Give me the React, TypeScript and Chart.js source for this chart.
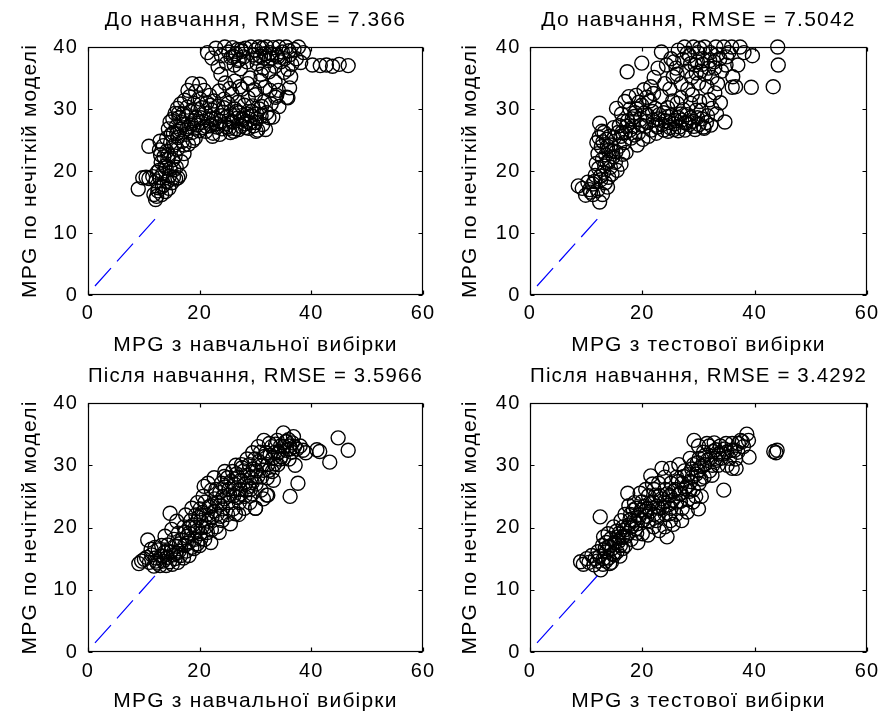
import React, { useEffect, useRef } from "react";
import { Chart, registerables } from "chart.js";

Chart.register(...registerables);

// ---------- data ----------
const trainBefore: [number, number][] = [
  [9.0, 17.1], [9.8, 18.9], [10.4, 19.0], [10.9, 18.8], [11.6, 19.1], [10.9, 24.0], [11.8, 16.2], [12.1, 15.4], [12.3, 15.9], [12.6, 17.3],
  [12.2, 18.4], [12.9, 18.9], [12.7, 20.1], [13.1, 21.4], [13.0, 22.6], [12.8, 23.4], [13.4, 19.6], [13.6, 17.8], [13.9, 16.7], [14.2, 18.3],
  [14.0, 20.5], [14.3, 21.9], [14.1, 23.2], [14.6, 19.2], [15.0, 18.1], [15.3, 19.0], [15.7, 18.7], [16.1, 18.9], [16.4, 19.3], [15.8, 20.6],
  [15.2, 21.8], [16.0, 23.5], [14.8, 24.6], [13.5, 24.1], [13.2, 16.2], [12.4, 19.8], [14.5, 17.2], [15.6, 22.4], [16.7, 21.5], [17.2, 22.8],
  [12.5, 16.8], [13.3, 17.5], [13.8, 20.8], [14.7, 20.3], [15.4, 20.2], [12.9, 24.8], [13.6, 22.3], [14.4, 22.7],
  [14.1, 25.3], [14.4, 26.8], [14.7, 27.9], [14.9, 25.9], [15.2, 28.4], [15.3, 26.1], [15.5, 24.2], [15.6, 29.3], [15.8, 27.2], [16.0, 30.1],
  [16.1, 25.4], [16.3, 28.6], [16.5, 26.7], [16.6, 30.8], [16.9, 24.8], [17.0, 29.2], [17.1, 27.5], [17.3, 31.4], [17.5, 25.9], [17.6, 28.8],
  [17.8, 30.3], [18.0, 24.3], [18.1, 27.1], [18.2, 32.0], [18.4, 29.6], [18.6, 26.2], [18.7, 34.1], [18.9, 28.1], [19.0, 30.9], [19.2, 25.3],
  [19.3, 32.8], [19.5, 27.4], [19.7, 29.9], [19.9, 26.5], [20.1, 31.6], [20.2, 28.6], [20.4, 30.2], [20.6, 27.0], [20.8, 33.0], [21.0, 29.3],
  [21.1, 26.4], [21.3, 31.0], [21.6, 28.2], [21.8, 32.2], [22.0, 27.3], [22.2, 29.8], [22.4, 26.1], [22.6, 31.3], [22.9, 28.5], [23.1, 27.1],
  [23.3, 30.4], [23.5, 32.9], [23.7, 28.0], [24.0, 26.8], [24.2, 29.5], [24.4, 31.6], [24.6, 27.6], [24.9, 28.8], [25.1, 30.9], [25.3, 26.9],
  [25.6, 29.1], [25.8, 32.4], [26.0, 27.9], [26.3, 30.0], [26.5, 26.8], [26.7, 28.5], [26.9, 31.1], [27.1, 29.4], [27.4, 27.2], [27.6, 33.2],
  [27.8, 28.3], [28.0, 30.6], [28.2, 27.0], [28.5, 29.2], [28.7, 31.8], [29.0, 27.8], [29.2, 28.9], [29.5, 30.5], [29.7, 27.3], [30.0, 32.3],
  [30.2, 28.4], [30.4, 26.6], [30.7, 30.0], [31.0, 28.9], [31.3, 27.5], [31.6, 31.2], [32.0, 29.4], [32.4, 28.6], [32.8, 30.8], [33.1, 28.7],
  [33.6, 31.9], [34.2, 30.4], [30.1, 26.4], [31.8, 26.7], [35.8, 31.8], [28.8, 26.9], [27.0, 26.7], [25.5, 26.2], [23.6, 25.9], [22.3, 25.6],
  [15.9, 26.0], [16.8, 27.8], [17.7, 26.8], [18.5, 27.6], [19.4, 28.6], [20.3, 27.8], [21.2, 27.2], [22.1, 28.4], [23.0, 27.6], [23.9, 28.9],
  [24.8, 27.1], [25.7, 28.0], [26.6, 29.6], [27.5, 28.4], [28.4, 28.0], [29.3, 29.6], [30.2, 29.2], [31.1, 30.4], [19.0, 26.9], [21.9, 30.6],
  [24.3, 30.2], [26.1, 26.4], [28.1, 27.6], [29.9, 27.8], [17.2, 24.2], [18.8, 24.9], [16.2, 29.3], [17.9, 33.0], [20.0, 34.0],
  [23.8, 35.6], [24.6, 34.2], [25.4, 33.3], [26.3, 34.5], [27.2, 33.6], [28.6, 34.1], [29.8, 33.1], [30.9, 34.6], [31.7, 33.5], [32.6, 33.0],
  [33.5, 34.4], [34.1, 33.0], [35.1, 35.9], [36.1, 33.4], [36.3, 35.2], [35.6, 31.9], [33.8, 32.2],
  [21.4, 39.1], [22.2, 38.2], [22.9, 39.8], [23.3, 36.8], [23.9, 38.6], [24.5, 40.0], [24.8, 37.4], [25.2, 39.2], [25.6, 38.3], [25.9, 39.9],
  [26.2, 37.1], [26.5, 38.9], [26.8, 39.6], [27.1, 38.0], [27.3, 36.5], [27.6, 39.3], [27.9, 38.4], [28.2, 39.8], [28.5, 37.6], [29.2, 40.0],
  [29.6, 38.7], [30.0, 39.5], [30.3, 37.3], [30.6, 40.0], [30.9, 38.5], [31.2, 39.8], [31.4, 36.6], [31.7, 38.9], [32.0, 40.0], [32.3, 37.8],
  [32.6, 39.1], [32.9, 38.2], [33.2, 39.9], [33.5, 36.9], [33.8, 38.7], [34.2, 40.0], [34.5, 37.6], [34.8, 39.2], [35.2, 38.1], [35.5, 40.0],
  [35.8, 36.4], [36.2, 38.8], [36.5, 37.2], [36.9, 39.6], [37.3, 38.1], [37.7, 40.0], [38.1, 37.5], [38.6, 39.1], [31.0, 35.6], [29.0, 35.0],
  [32.4, 36.0], [26.0, 38.5], [26.9, 37.8], [27.4, 39.6], [31.5, 38.2], [33.0, 38.8], [34.0, 38.4], [36.0, 39.4], [30.1, 38.2],
  [40.2, 37.1], [41.6, 37.0], [42.7, 37.1], [43.8, 36.9], [45.0, 37.2], [46.6, 37.0],
];

const testBefore: [number, number][] = [
  [8.6, 17.6], [9.3, 17.2], [9.9, 16.1], [10.3, 18.2], [10.8, 16.6], [11.2, 17.9], [11.6, 19.3], [12.0, 16.9], [12.4, 15.0], [12.6, 18.6],
  [12.9, 16.2], [13.1, 19.8], [13.4, 18.1], [13.8, 17.4], [14.0, 19.0], [14.3, 20.6], [12.2, 20.4], [11.8, 21.2], [12.9, 21.9], [12.1, 22.8],
  [11.9, 24.6], [12.4, 27.7], [12.3, 25.4], [12.7, 23.9], [13.0, 24.7], [13.2, 26.2], [13.5, 22.6], [13.6, 25.1], [13.9, 23.3], [14.1, 21.7],
  [14.4, 24.2], [14.8, 22.3], [15.0, 25.4], [15.3, 23.1], [15.5, 20.1], [15.9, 24.0], [16.2, 21.1], [16.5, 22.7], [14.6, 19.5], [15.7, 26.2],
  [16.8, 24.6], [17.1, 23.0], [13.3, 20.8], [14.9, 27.0], [11.5, 18.3],
  [12.6, 19.2], [13.7, 21.4], [14.2, 25.6], [12.8, 26.4], [13.8, 24.0], [11.2, 16.2], [10.6, 17.0], [15.2, 21.4], [14.6, 23.2], [16.2, 25.6],
  [15.4, 30.1], [15.9, 27.3], [16.3, 29.2], [16.9, 31.2], [17.0, 26.2], [17.4, 28.1], [17.8, 30.0], [18.0, 25.3], [18.4, 27.2], [18.7, 29.4],
  [18.9, 32.2], [19.3, 26.1], [19.6, 28.3], [19.9, 30.6], [20.3, 33.1], [20.6, 27.2], [20.9, 29.0], [21.3, 31.3], [21.6, 26.6], [21.9, 28.2],
  [22.3, 30.1], [22.7, 27.1], [23.0, 29.1], [23.4, 32.0], [23.8, 26.6], [24.1, 28.1], [24.5, 30.2], [24.9, 27.0], [25.2, 28.9], [25.6, 26.7],
  [25.9, 28.1], [26.2, 30.9], [26.6, 27.1], [27.0, 28.2], [27.3, 29.9], [27.6, 26.6], [28.0, 29.1], [28.3, 27.5], [28.6, 30.9], [29.0, 28.0],
  [29.4, 26.7], [29.8, 28.6], [30.1, 27.5], [30.5, 29.8], [30.9, 27.1], [31.6, 28.9], [32.4, 30.1], [33.2, 29.2], [34.7, 27.9], [21.1, 25.6],
  [20.1, 25.1], [19.1, 24.2], [22.5, 26.1], [23.5, 27.5], [24.6, 26.4], [26.4, 26.5], [27.8, 27.7], [29.2, 27.2], [31.0, 26.9], [18.2, 28.4],
  [19.4, 31.1], [20.8, 31.9], [22.0, 32.5], [17.6, 32.0], [16.6, 28.0], [25.4, 31.3], [26.9, 31.8], [28.9, 32.3], [30.2, 31.2], [31.9, 31.5],
  [32.9, 32.6], [33.9, 31.0],
  [17.2, 27.2], [18.6, 28.8], [19.8, 27.4], [20.8, 28.0], [21.8, 29.6], [22.8, 28.4], [23.8, 29.4], [24.6, 28.8], [25.8, 27.6], [26.8, 29.2],
  [27.6, 27.8], [28.6, 28.6], [29.6, 29.8], [30.6, 28.4], [31.4, 27.8], [32.2, 27.4], [19.0, 30.0], [20.4, 29.4], [17.8, 26.6], [16.4, 26.2],
  [18.6, 25.8], [22.4, 27.4], [24.8, 27.8], [26.4, 28.6],
  [17.3, 36.0], [19.9, 37.4], [21.5, 33.6], [22.1, 35.1], [22.8, 36.6], [23.4, 39.2], [24.0, 34.1], [24.3, 37.1], [24.9, 33.2], [25.1, 38.1],
  [25.5, 35.2], [26.0, 36.6], [26.4, 39.5], [26.9, 34.1], [27.2, 38.0], [27.5, 40.0], [27.9, 36.1], [28.1, 33.2], [28.4, 38.6], [28.8, 35.1],
  [29.1, 40.0], [29.4, 37.1], [29.9, 39.1], [30.0, 34.2], [30.4, 36.1], [30.8, 38.1], [31.1, 40.0], [31.5, 33.6], [31.8, 36.6], [32.1, 39.1],
  [32.4, 35.1], [32.8, 37.6], [33.1, 40.0], [33.4, 34.1], [33.8, 38.1], [34.1, 36.1], [34.5, 40.0], [34.9, 37.1], [35.4, 39.1], [35.9, 40.0],
  [36.1, 35.2], [36.6, 33.6], [37.0, 37.1], [37.4, 40.0], [38.1, 39.1], [39.6, 38.6], [44.1, 40.0], [44.2, 37.1], [43.3, 33.6], [39.4, 33.5],
  [36.0, 33.5], [28.6, 37.3], [30.7, 37.2], [32.9, 36.6], [26.2, 35.6], [29.6, 35.8],
  [29.8, 37.6], [31.2, 35.6], [30.2, 39.8], [33.4, 38.8], [35.0, 38.4], [28.0, 39.0], [25.6, 37.6], [32.0, 37.8],
];

const trainAfter: [number, number][] = [
  [9.1, 14.2], [9.6, 14.6], [10.1, 14.9], [10.5, 15.2], [10.7, 18.0], [11.0, 14.4], [11.4, 15.6], [11.8, 13.8], [12.1, 15.1], [12.4, 14.3],
  [12.6, 16.4], [12.9, 13.9], [13.1, 15.4], [13.2, 17.1], [13.5, 14.6], [13.7, 16.0], [14.0, 13.9], [14.2, 15.2], [14.3, 17.2], [14.6, 14.5],
  [14.8, 16.1], [15.1, 14.1], [15.3, 15.6], [15.4, 18.1], [14.7, 22.3], [15.6, 15.0], [15.8, 17.0], [16.1, 14.4], [16.3, 16.2], [16.2, 19.1],
  [16.6, 15.5], [16.8, 18.0], [17.1, 15.1], [17.3, 17.1], [17.2, 20.1], [12.0, 16.8], [13.8, 18.6], [15.0, 19.7], [15.9, 21.0], [11.3, 16.5],
  [17.6, 16.2], [18.1, 15.5],
  [17.5, 22.0], [18.0, 17.5], [18.1, 19.1], [18.4, 21.1], [18.6, 23.1], [19.0, 16.6], [19.1, 18.1], [19.2, 20.0], [19.3, 22.0], [19.6, 24.0],
  [20.0, 17.1], [20.1, 19.0], [20.2, 21.1], [20.1, 23.0], [20.6, 25.0], [20.9, 18.1], [21.1, 20.1], [21.2, 22.0], [21.0, 24.1], [21.5, 27.1],
  [22.0, 17.6], [22.1, 19.6], [22.2, 21.6], [22.0, 23.5], [22.1, 26.0], [22.6, 28.0], [23.0, 20.1], [23.1, 22.1], [23.2, 24.0], [22.9, 26.1],
  [23.5, 19.2], [24.0, 21.1], [24.1, 23.0], [24.2, 25.0], [23.9, 27.1], [24.5, 29.0], [25.0, 22.1], [25.1, 24.0], [25.2, 26.1], [25.0, 28.0],
  [25.5, 20.6], [26.0, 23.0], [26.1, 25.1], [26.2, 27.0], [25.9, 29.0], [26.5, 30.0], [27.0, 22.1], [27.1, 24.0], [27.2, 26.1], [26.9, 28.1],
  [27.5, 30.1], [28.0, 23.1], [28.1, 25.0], [28.2, 27.0], [27.9, 29.1], [28.5, 31.0], [29.0, 24.0], [29.1, 26.1], [29.2, 28.0], [28.9, 30.1],
  [29.5, 32.0], [30.0, 23.1], [30.1, 27.0], [30.2, 29.1], [29.9, 31.0], [30.5, 33.0], [31.0, 26.0], [31.1, 28.1], [31.2, 30.0], [30.9, 32.1],
  [31.5, 34.0], [32.0, 25.2], [32.1, 28.0], [32.2, 30.1], [31.9, 32.0], [32.5, 33.5], [33.0, 29.0], [33.1, 31.1], [32.9, 33.0], [33.5, 32.1],
  [34.0, 30.1], [34.1, 32.0], [33.9, 34.0], [34.5, 33.1], [35.0, 31.1], [35.1, 33.0], [35.0, 35.2], [35.5, 32.4], [36.0, 31.0], [36.1, 33.1],
  [35.9, 34.1], [36.2, 25.0], [36.5, 32.1], [37.0, 33.0], [37.1, 30.0], [37.6, 27.1], [38.0, 33.1], [38.5, 32.4], [39.0, 32.0], [41.0, 32.5],
  [41.5, 32.2], [43.3, 30.5], [44.8, 34.4], [46.6, 32.4], [32.2, 25.2], [30.0, 23.1],
  [18.8, 20.4], [19.8, 21.6], [20.5, 22.4], [21.7, 23.3], [22.7, 24.6], [23.6, 25.6], [24.6, 26.5], [25.6, 27.4], [26.6, 28.6], [27.6, 29.6],
  [28.6, 28.4], [29.6, 29.4], [30.6, 30.6], [31.6, 31.4], [32.6, 31.6], [33.6, 33.4], [34.6, 31.4], [36.6, 33.6], [23.8, 21.8], [26.8, 24.8],
  [28.8, 26.6], [21.4, 19.2], [19.6, 17.4], [17.8, 18.6], [20.8, 26.6], [24.4, 28.2], [27.4, 27.6], [29.4, 25.4], [26.4, 22.2], [36.8, 34.6],
  [35.6, 33.8], [33.2, 27.6], [31.4, 24.6],
  [17.4, 19.2], [18.2, 20.0], [19.4, 19.4], [20.4, 20.0], [21.6, 21.0], [22.6, 22.6], [23.6, 23.6], [24.4, 24.6], [25.4, 25.2], [26.4, 26.2],
  [27.4, 25.4], [28.4, 26.0], [29.4, 27.2], [30.4, 28.2], [31.4, 29.2], [32.4, 29.2], [33.4, 30.2], [34.4, 31.0], [35.4, 33.8], [36.2, 32.6],
  [37.4, 32.6], [20.2, 18.2], [16.4, 17.4], [14.2, 16.2], [13.4, 15.4], [12.2, 14.6], [15.8, 15.8], [18.6, 16.8],
];

const testAfter: [number, number][] = [
  [9.0, 14.5], [9.5, 14.1], [10.1, 15.0], [10.5, 14.4], [11.0, 15.5], [11.4, 14.0], [12.0, 14.6], [12.1, 16.1], [12.6, 13.2], [12.5, 21.7],
  [13.0, 14.1], [13.1, 15.0], [12.9, 17.1], [13.1, 18.5], [13.5, 14.6], [13.6, 16.1], [14.0, 15.1], [14.1, 17.0], [13.9, 19.0], [14.5, 14.4],
  [14.6, 16.6], [15.0, 15.6], [15.1, 17.6], [14.9, 20.1], [15.5, 16.1], [15.6, 18.5], [16.0, 15.4], [16.1, 17.1], [15.9, 19.1], [16.2, 21.1],
  [16.5, 16.6], [16.6, 20.1], [17.0, 17.1], [17.1, 18.6], [16.9, 22.1], [17.5, 19.1], [17.6, 23.5], [17.4, 25.5], [18.0, 18.1], [18.1, 20.1],
  [17.9, 22.1], [18.5, 21.1], [18.6, 24.0], [19.0, 19.1], [19.1, 20.6], [18.9, 23.1], [19.5, 22.1], [19.6, 25.5], [20.0, 19.0], [20.1, 21.1],
  [19.9, 24.1], [20.5, 22.6], [20.6, 26.1], [21.0, 18.8], [21.1, 21.1], [20.9, 23.1], [21.1, 25.1], [21.5, 28.3], [22.0, 20.1], [22.1, 22.1],
  [21.9, 24.1], [22.1, 26.1], [22.5, 21.1], [23.0, 23.1], [23.1, 25.1], [22.9, 27.1], [23.0, 19.5], [23.5, 29.5], [24.0, 20.1], [24.1, 22.1],
  [23.9, 24.1], [24.1, 26.1], [24.0, 28.1], [24.4, 18.5], [25.0, 21.1], [25.1, 23.1], [24.9, 25.1], [25.1, 27.1], [25.0, 29.5], [25.5, 20.5],
  [26.0, 22.1], [26.1, 24.1], [25.9, 26.1], [26.1, 28.1], [26.5, 30.1], [27.0, 21.1], [27.1, 23.1], [26.9, 25.5], [27.1, 27.1], [27.5, 29.1],
  [28.0, 22.5], [28.1, 24.5], [27.9, 26.5], [28.1, 28.5], [28.5, 31.1], [29.0, 24.1], [29.1, 26.1], [28.9, 28.1], [29.1, 30.1], [29.2, 34.0],
  [29.5, 25.0], [30.0, 23.0], [30.1, 27.1], [29.9, 29.1], [30.1, 31.1], [30.0, 33.1], [30.5, 25.0], [31.0, 28.1], [31.1, 30.1], [30.9, 32.1],
  [31.5, 33.5], [32.0, 29.1], [32.1, 31.1], [31.9, 33.1], [32.5, 30.0], [33.0, 31.1], [33.1, 32.5], [33.5, 30.0], [34.0, 31.1], [33.9, 33.1],
  [34.5, 26.0], [35.0, 32.1], [35.1, 30.0], [34.9, 33.5], [35.5, 31.1], [36.0, 33.5], [36.7, 29.5], [37.0, 32.1], [37.1, 33.5], [37.5, 34.0],
  [38.0, 33.0], [38.6, 35.0], [38.9, 34.0], [39.0, 31.3], [43.4, 32.2], [44.0, 32.4], [43.8, 32.0],
  [13.6, 17.6], [14.4, 18.2], [15.4, 19.4], [16.4, 18.4], [17.8, 21.2], [18.4, 22.8], [19.4, 21.6], [20.4, 23.4], [21.4, 22.6], [22.6, 23.4],
  [23.4, 24.6], [24.6, 23.6], [25.6, 25.8], [26.4, 27.4], [27.6, 26.2], [28.6, 27.4], [29.6, 28.6], [30.6, 29.8], [31.6, 30.8], [32.6, 32.2],
  [33.6, 31.8], [34.6, 32.6], [36.4, 32.4], [22.8, 21.8], [24.8, 22.2], [26.8, 24.2], [28.4, 25.8], [30.4, 27.8], [32.4, 28.4], [21.8, 27.0],
  [19.2, 17.6], [36.0, 29.5],
  [13.4, 16.6], [14.8, 15.8], [15.8, 17.8], [16.8, 19.6], [17.6, 20.4], [18.8, 19.8], [19.8, 22.8], [20.8, 21.8], [21.6, 23.8], [22.4, 25.2],
  [23.6, 23.2], [24.4, 25.4], [25.4, 24.4], [26.6, 25.4], [27.4, 28.2], [28.8, 29.4], [29.8, 30.4], [31.2, 31.6], [32.8, 33.6], [33.2, 30.8],
  [34.4, 31.8], [35.8, 32.4], [36.6, 31.0], [37.8, 33.8], [12.4, 15.4], [11.6, 15.0], [14.2, 14.2], [16.6, 18.6],
];

const identityLine: [number, number][] = [
  [1.25, 1.45],
  [12, 12.25],
];

const titles = [
  "До навчання, RMSE = 7.366",
  "До навчання, RMSE = 7.5042",
  "Після навчання, RMSE = 3.5966",
  "Після навчання, RMSE = 3.4292",
];
const xLabels = [
  "MPG з навчальної вибірки",
  "MPG з тестової вибірки",
  "MPG з навчальної вибірки",
  "MPG з тестової вибірки",
];
const yLabel = "MPG по нечіткій моделі";
const xTicks = [0, 20, 40, 60];
const yTicks = [0, 10, 20, 30, 40];

// ---------- layout of the four panels ----------
type Panel = {
  data: [number, number][];
  title: string;
  xLabel: string;
  left: number; top: number; w: number; h: number;
  plotLeft: number; plotRight: number; plotTop: number; plotBottom: number;
  titleCenter: number; yTitleCenter: number; xTitleCenter: number;
  xTickPad: number; yTickPad: number;
};

const panels: Panel[] = [
  { data: trainBefore, title: titles[0], xLabel: xLabels[0], left: 0, top: 0, w: 444, h: 360,
    plotLeft: 88, plotRight: 423, plotTop: 47, plotBottom: 295, titleCenter: 20.5, yTitleCenter: 30, xTitleCenter: 345,
    xTickPad: 6, yTickPad: 10 },
  { data: testBefore, title: titles[1], xLabel: xLabels[1], left: 444, top: 0, w: 445, h: 360,
    plotLeft: 86, plotRight: 423, plotTop: 47, plotBottom: 295, titleCenter: 20.5, yTitleCenter: 26.7, xTitleCenter: 345,
    xTickPad: 6, yTickPad: 9.5 },
  { data: trainAfter, title: titles[2], xLabel: xLabels[2], left: 0, top: 360, w: 444, h: 355,
    plotLeft: 88, plotRight: 423, plotTop: 43, plotBottom: 292, titleCenter: 16.5, yTitleCenter: 30, xTitleCenter: 341.5,
    xTickPad: 7, yTickPad: 10 },
  { data: testAfter, title: titles[3], xLabel: xLabels[3], left: 444, top: 360, w: 445, h: 355,
    plotLeft: 86, plotRight: 423, plotTop: 43, plotBottom: 292, titleCenter: 16.5, yTitleCenter: 26.7, xTitleCenter: 341.5,
    xTickPad: 7, yTickPad: 9.5 },
];

const FONT = "'Liberation Sans', Arial, sans-serif";
const FS = 21;
const TICK_FS = 20;
const LH = FS * 1.2;
const SPACING = "1.2px";

const spacingPlugin = {
  id: "letterSpacing",
  beforeLayout(chart: any) { (chart.ctx as any).letterSpacing = SPACING; },
  beforeDraw(chart: any) { (chart.ctx as any).letterSpacing = SPACING; },
};

const framePlugin = {
  id: "matlabFrame",
  afterDraw(chart: any) {
    const { ctx, chartArea, scales } = chart;
    const L = Math.round(chartArea.left) + 0.5;
    const R = Math.round(chartArea.right) - 0.5;
    const T = Math.round(chartArea.top) + 0.5;
    const B = Math.round(chartArea.bottom) - 0.5;
    ctx.save();
    ctx.strokeStyle = "#000";
    ctx.lineWidth = 1.2;
    ctx.strokeRect(L, T, R - L, B - T);
    const len = 4;
    ctx.beginPath();
    scales.x.ticks.forEach((t: any) => {
      const px = Math.round(scales.x.getPixelForValue(t.value)) + 0.5;
      ctx.moveTo(px, B); ctx.lineTo(px, B - len);
      ctx.moveTo(px, T); ctx.lineTo(px, T + len);
    });
    scales.y.ticks.forEach((t: any) => {
      const py = Math.round(scales.y.getPixelForValue(t.value)) + 0.5;
      ctx.moveTo(L, py); ctx.lineTo(L + len, py);
      ctx.moveTo(R, py); ctx.lineTo(R - len, py);
    });
    ctx.stroke();
    ctx.restore();
  },
};

function PanelChart({ p }: { p: Panel }) {
  const ref = useRef<HTMLCanvasElement | null>(null);
  useEffect(() => {
    if (!ref.current) return;
    const chart = new Chart(ref.current, {
      type: "scatter",
      data: {
        datasets: [
          {
            type: "line",
            data: identityLine.map(([x, y]) => ({ x, y })),
            borderColor: "#0000ff",
            borderWidth: 1.2,
            borderDash: [24, 9],
            pointRadius: 0,
            fill: false,
            clip: false as any,
          } as any,
          {
            type: "scatter",
            data: p.data.map(([x, y]) => ({ x, y })),
            pointRadius: 7,
            pointHoverRadius: 7,
            borderWidth: 1.4,
            borderColor: "#000",
            backgroundColor: "rgba(0,0,0,0)",
            pointStyle: "circle",
            clip: false as any,
          } as any,
        ],
      },
      options: {
        animation: false,
        responsive: false,
        devicePixelRatio: 1,
        events: [],
        layout: { padding: { left: 0, top: 0, bottom: 0, right: p.w - p.plotRight } },
        plugins: {
          legend: { display: false },
          tooltip: { enabled: false },
          title: {
            display: true,
            text: p.title,
            color: "#000",
            fullSize: false,
            font: { family: FONT, size: FS, weight: "normal", lineHeight: 1.2 },
            padding: { top: p.titleCenter - LH / 2, bottom: p.plotTop - (p.titleCenter - LH / 2) - LH },
          },
        },
        scales: {
          x: {
            type: "linear",
            min: 0,
            max: 60,
            afterBuildTicks: (s: any) => { s.ticks = xTicks.map((v) => ({ value: v })); },
            ticks: { color: "#000", padding: p.xTickPad, font: { family: FONT, size: TICK_FS }, maxRotation: 0 },
            grid: { display: false, drawTicks: false },
            border: { display: false },
            title: {
              display: true,
              text: p.xLabel,
              color: "#000",
              font: { family: FONT, size: FS, lineHeight: 1.2 },
              padding: { top: 0, bottom: p.h - p.xTitleCenter - LH / 2 },
            },
            afterFit: (s: any) => { s.height = p.h - p.plotBottom; },
          },
          y: {
            type: "linear",
            min: 0,
            max: 40,
            afterBuildTicks: (s: any) => { s.ticks = yTicks.map((v) => ({ value: v })); },
            ticks: { color: "#000", padding: p.yTickPad, font: { family: FONT, size: TICK_FS } },
            grid: { display: false, drawTicks: false },
            border: { display: false },
            title: {
              display: true,
              text: yLabel,
              color: "#000",
              font: { family: FONT, size: FS, lineHeight: 1.2 },
              padding: { top: p.yTitleCenter - LH / 2, bottom: 0 },
            },
            afterFit: (s: any) => { s.width = p.plotLeft; },
          },
        },
      },
      plugins: [spacingPlugin, framePlugin],
    } as any);
    return () => chart.destroy();
  }, [p]);
  return (
    <canvas
      ref={ref}
      width={p.w}
      height={p.h}
      style={{ position: "absolute", left: p.left, top: p.top, width: p.w, height: p.h }}
    />
  );
}

export default function App() {
  return (
    <div style={{ position: "absolute", left: 0, top: 0, width: 889, height: 715, background: "#fff" }}>
      {panels.map((p, i) => (
        <PanelChart key={i} p={p} />
      ))}
    </div>
  );
}
